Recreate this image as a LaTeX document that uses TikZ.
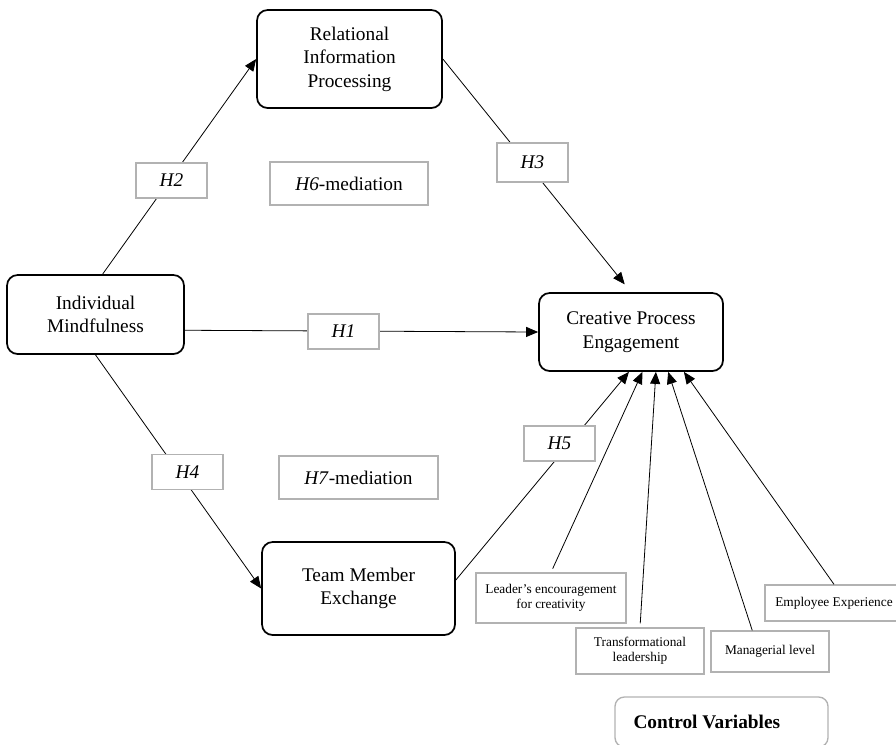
\documentclass[tikz,border=0pt]{standalone}
\usepackage{fontspec}
\setmainfont{Liberation Serif}
\usetikzlibrary{arrows.meta}

\tikzset{
  mainbox/.style={draw, line width=1.3pt, rounded corners=8pt, align=center,
    font=\fontsize{14.5}{17.7}\selectfont},
  hypbox/.style={draw=black!30, line width=1pt, fill=white, align=center,
    minimum width=53.25pt, minimum height=26.25pt, font=\fontsize{14.5}{17.7}\selectfont},
  ctrlbox/.style={draw=black!30, line width=1pt, align=center,
    font=\fontsize{10}{11}\selectfont},
  link/.style={-{Triangle[length=9pt,width=7.5pt]}, line width=0.6pt},
}

\begin{document}
\begin{tikzpicture}[x=0.75pt,y=-0.75pt]
\useasboundingbox (0,0) rectangle (896,744);
% constructs
\node[mainbox, minimum width=138.75pt, minimum height=73.5pt] (RIP) at (349.5,59) {Relational\\Information\\Processing};
\node[mainbox, minimum width=132.75pt, minimum height=59.25pt] (IM) at (95.5,314.5) {Individual\\Mindfulness};
\node[mainbox, minimum width=138pt, minimum height=58.5pt] (CPE) at (631,332) {Creative Process\\Engagement};
\node[mainbox, minimum width=144.75pt, minimum height=69.75pt] (TME) at (358.5,588.5) {Team Member\\Exchange};
% control variables
\node[ctrlbox, minimum width=112.5pt, minimum height=37.5pt] (LEC) at (551,598) {Leader's encouragement\\for creativity};
\node[ctrlbox, minimum width=96pt, minimum height=34.5pt] (TL) at (640,651) {Transformational\\leadership};
\node[ctrlbox, minimum width=88.5pt, minimum height=30.75pt] (ML) at (770,651.5) {Managerial level};
\node[ctrlbox, minimum width=103.5pt, minimum height=27pt] (EE) at (834,603) {Employee Experience};
\node[ctrlbox, rounded corners=7pt, minimum width=159.75pt, minimum height=37.5pt,
  font=\fontsize{14.5}{17.7}\selectfont\bfseries] (CV) at (721.5,722) {\makebox[132pt][l]{Control Variables}};
% hypothesised paths
\draw[link] (IM.80) -- (RIP.west);
\draw[link, shorten >=7.5pt] (RIP.east) -- (CPE.north);
\draw[link] (IM.-10) -- (CPE.west);
\draw[link] (IM.south) -- (TME.west);
\draw[link] (TME.5) -- (CPE.-93);
% control paths
\draw[link, shorten <=3pt] (LEC.north) -- (CPE.-74);
\draw[link, shorten <=3pt] (TL.north) -- (CPE.-58);
\draw[link] (ML.130) -- (CPE.-47);
\draw[link] (EE.north) -- (CPE.-37);
% hypothesis labels
\node[hypbox] (H2) at (171.5,180.5) {\textit{H2}};
\node[hypbox, minimum height=29.25pt] (H3) at (532.5,162.5) {\textit{H3}};
\node[hypbox] (H1) at (343.5,331.5) {\textit{H1}};
\node[hypbox] (H4) at (187.5,472) {\textit{H4}};
\node[hypbox] (H5) at (559.5,443.5) {\textit{H5}};
\node[hypbox, minimum width=118.5pt, minimum height=32.25pt] (H6) at (349,183.5) {\textit{H6}-mediation};
\node[hypbox, minimum width=119.25pt, minimum height=32.25pt] (H7) at (358.5,477.5) {\textit{H7}-mediation};
\end{tikzpicture}
\end{document}
